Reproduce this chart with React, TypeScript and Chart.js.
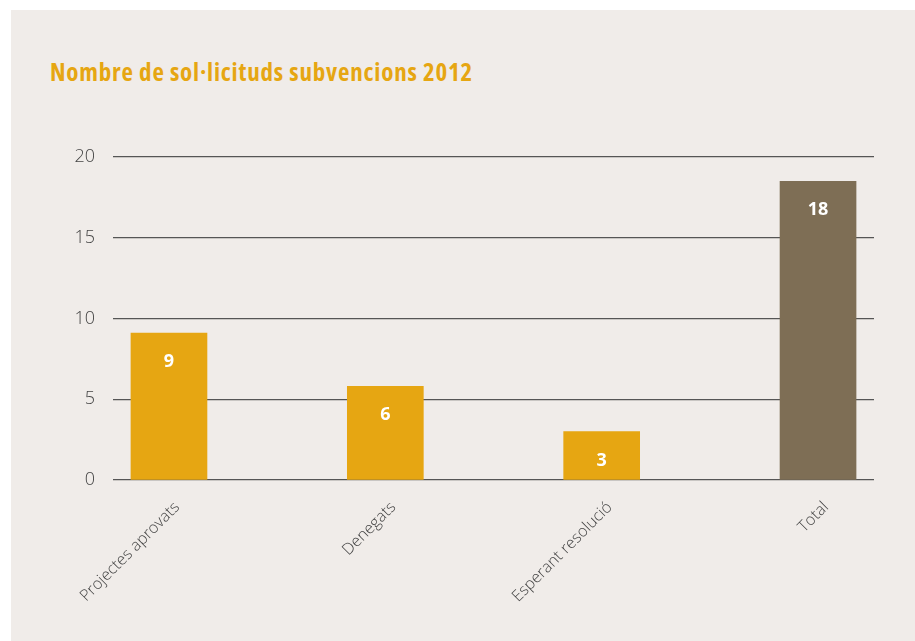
import React, { useEffect, useRef } from "react";
import { Chart, registerables } from "chart.js";

Chart.register(...registerables);

const categories = ["Projectes aprovats", "Denegats", "Esperant resolució", "Total"];
const values = [9.1, 5.8, 3.0, 18.5];
const valueLabels = ["9", "6", "3", "18"];
const barColors = ["#e6a612", "#e6a612", "#e6a612", "#7e6e55"];
const yTicks = [0, 5, 10, 15, 20];
const title = "Nombre de sol·licituds subvencions 2012";

const W = 915;
const H = 641;

const valueLabelPlugin = {
  id: "valueLabels",
  afterDatasetsDraw(chart: any) {
    const ctx = chart.ctx;
    const meta = chart.getDatasetMeta(0);
    ctx.save();
    ctx.fillStyle = "#ffffff";
    ctx.font = "bold 18px 'Open Sans'";
    ctx.textAlign = "center";
    ctx.textBaseline = "middle";
    meta.data.forEach((bar: any, i: number) => {
      ctx.fillText(valueLabels[i], bar.x, bar.y + 29);
    });
    ctx.restore();
  },
};

export default function App() {
  const ref = useRef<HTMLCanvasElement>(null);

  useEffect(() => {
    if (!ref.current) return;
    const chart = new Chart(ref.current, {
      type: "bar",
      data: {
        datasets: [
          {
            data: values.map((v, i) => ({ x: i, y: v })),
            backgroundColor: barColors,
            barThickness: 76,
          },
        ],
      },
      plugins: [valueLabelPlugin],
      options: {
        animation: false,
        responsive: false,
        maintainAspectRatio: false,
        layout: { padding: { top: 157, right: 41, bottom: 0, left: 0 } },
        plugins: {
          legend: { display: false },
          tooltip: { enabled: false },
          title: { display: false },
        },
        scales: {
          x: {
            type: "linear",
            offset: false,
            min: -0.2587,
            max: 3.2587,
            grid: { display: false },
            border: { display: false },
            afterFit: (s: any) => {
              s.height = H - 480;
            },
            afterBuildTicks: (s: any) => {
              s.ticks = categories.map((_, i) => ({ value: i }));
            },
            ticks: {
              autoSkip: false,
              minRotation: 45,
              maxRotation: 45,
              padding: 10,
              labelOffset: 8,
              color: "#444444",
              font: { family: "'Open Sans'", size: 16, weight: "300" },
              callback: (v: any) => categories[v] ?? "",
            },
          },
          y: {
            min: 0,
            max: 20,
            afterBuildTicks: (s: any) => {
              s.ticks = yTicks.map((v) => ({ value: v }));
            },
            afterFit: (s: any) => {
              s.width = 113;
            },
            grid: { color: "#555555", lineWidth: 1.2, drawTicks: false },
            border: { display: false },
            ticks: {
              padding: 18,
              color: "#444444",
              font: { family: "'Open Sans'", size: 18, weight: "300" },
            },
          },
        },
      },
    } as any);
    return () => chart.destroy();
  }, []);

  return (
    <div style={{ position: "fixed", left: 0, top: 0, width: W, height: H, background: "#ffffff" }}>
      <div
        style={{
          position: "absolute",
          left: 11,
          top: 10,
          width: W - 11,
          height: H - 10,
          background: "#f0ece9",
        }}
      />
      <div
        style={{
          position: "absolute",
          left: 50,
          top: 54,
          fontFamily: "'Open Sans', sans-serif",
          fontStretch: "75%",
          fontWeight: 700,
          fontSize: 25,
          lineHeight: "34px",
          letterSpacing: "0.8px",
          color: "#e6a612",
          whiteSpace: "nowrap",
        }}
      >
        {title}
      </div>
      <canvas
        ref={ref}
        width={W}
        height={H}
        style={{ position: "absolute", left: 0, top: 0, width: W, height: H }}
      />
    </div>
  );
}
